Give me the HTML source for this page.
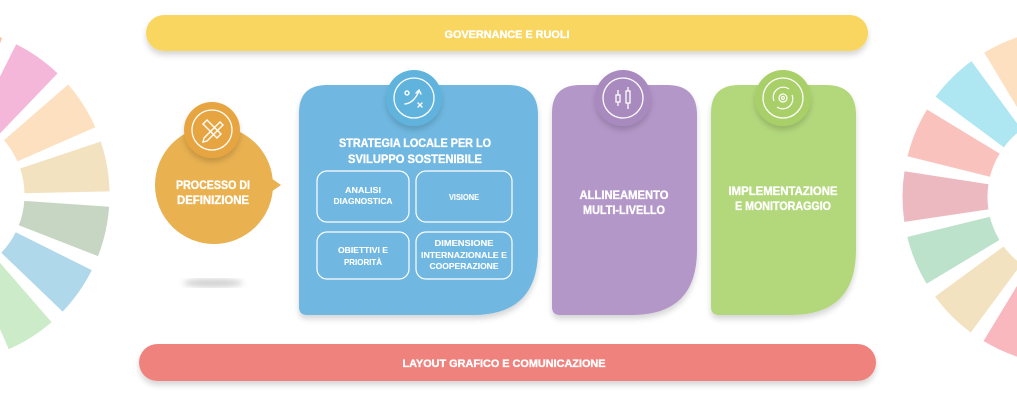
<!DOCTYPE html>
<html><head><meta charset="utf-8"><style>
html,body{margin:0;padding:0;background:#fff;}
svg{display:block;}
text{font-family:"Liberation Sans",sans-serif;font-weight:bold;fill:#fff;stroke:#fff;stroke-width:0.35px;}
</style></head><body>
<svg width="1017" height="408" viewBox="0 0 1017 408" xmlns="http://www.w3.org/2000/svg">
<defs>
<filter id="sh" x="-20%" y="-20%" width="140%" height="150%"><feDropShadow dx="0" dy="4" stdDeviation="3" flood-color="#000" flood-opacity="0.16"/></filter>
<filter id="blur"><feGaussianBlur stdDeviation="3"/></filter>
</defs>
<g fill="none" stroke-width="85">
<circle cx="-59" cy="195" r="126" stroke="#f8c5a8" stroke-dasharray="38 800" transform="rotate(-86 -59 195)"/>
<circle cx="-59" cy="195" r="126" stroke="#f4b6d9" stroke-dasharray="38 800" transform="rotate(-63.5 -59 195)"/>
<circle cx="-59" cy="195" r="126" stroke="#fce0bf" stroke-dasharray="38 800" transform="rotate(-41 -59 195)"/>
<circle cx="-59" cy="195" r="126" stroke="#f2e2c0" stroke-dasharray="38 800" transform="rotate(-18.5 -59 195)"/>
<circle cx="-59" cy="195" r="126" stroke="#c6d6c3" stroke-dasharray="38 800" transform="rotate(4 -59 195)"/>
<circle cx="-59" cy="195" r="126" stroke="#afd8ea" stroke-dasharray="38 800" transform="rotate(26.5 -59 195)"/>
<circle cx="-59" cy="195" r="126" stroke="#ccebc8" stroke-dasharray="38 800" transform="rotate(49 -59 195)"/>
</g>
<g fill="none" stroke-width="85">
<circle cx="1071" cy="197" r="126" stroke="#fde0c0" stroke-dasharray="38 800" transform="rotate(239 1071 197)"/>
<circle cx="1071" cy="197" r="126" stroke="#aee6f1" stroke-dasharray="38 800" transform="rotate(216.5 1071 197)"/>
<circle cx="1071" cy="197" r="126" stroke="#f9c2bd" stroke-dasharray="38 800" transform="rotate(194 1071 197)"/>
<circle cx="1071" cy="197" r="126" stroke="#ecb9c1" stroke-dasharray="38 800" transform="rotate(171.5 1071 197)"/>
<circle cx="1071" cy="197" r="126" stroke="#bde2cb" stroke-dasharray="38 800" transform="rotate(149 1071 197)"/>
<circle cx="1071" cy="197" r="126" stroke="#f3e2c0" stroke-dasharray="38 800" transform="rotate(126.5 1071 197)"/>
<circle cx="1071" cy="197" r="126" stroke="#f8b8bd" stroke-dasharray="38 800" transform="rotate(104 1071 197)"/>
</g>
<circle cx="1071" cy="197" r="83" fill="#fff"/>
<circle cx="-59" cy="195" r="83" fill="#fff"/>

<rect x="146" y="15" width="722" height="36" rx="18" fill="#f9d660" filter="url(#sh)"/>
<text x="507" y="38" font-size="11" text-anchor="middle" textLength="125" lengthAdjust="spacingAndGlyphs">GOVERNANCE E RUOLI</text>
<rect x="139" y="344" width="737" height="37" rx="18.5" fill="#f0827d" filter="url(#sh)"/>
<text x="504" y="367" font-size="11" text-anchor="middle" textLength="203" lengthAdjust="spacingAndGlyphs">LAYOUT GRAFICO E COMUNICAZIONE</text>

<ellipse cx="213" cy="283" rx="30" ry="4" fill="#bbb" filter="url(#blur)" opacity="0.7"/>
<path d="M268 176 L281 185 L268 194 Z" fill="#e9b150"/>
<circle cx="214" cy="185" r="59" fill="#e9b150"/>
<circle cx="212" cy="130" r="28" fill="#e6a541" filter="url(#sh)"/>
<circle cx="212" cy="130" r="20" fill="none" stroke="#fff" stroke-width="1.3"/>
<g stroke="#fff" stroke-width="1.4" fill="none" stroke-linecap="round"><path d="M204 138 L220 122 L223 125 L207 141 L203 142 Z"/><path d="M203 124 L207 120 L221 134 L217 138 Z"/></g>
<text x="213" y="189" font-size="11.5" text-anchor="middle" textLength="74" lengthAdjust="spacingAndGlyphs">PROCESSO DI</text>
<text x="213" y="204" font-size="11.5" text-anchor="middle" textLength="72" lengthAdjust="spacingAndGlyphs">DEFINIZIONE</text>

<path d="M327 85 H508 Q538 85 538 115 V250 Q538 315 473 315 H307 Q299 315 299 307 V113 Q299 85 327 85 Z" fill="#6fb8e1" filter="url(#sh)"/>
<circle cx="414" cy="98" r="28" fill="#5fb3dc" filter="url(#sh)"/>
<circle cx="414" cy="98" r="20" fill="none" stroke="#fff" stroke-width="1.3"/>
<g stroke="#fff" stroke-width="1.4" fill="none" stroke-linecap="round"><circle cx="407" cy="93" r="2"/><path d="M405 104 Q414 103 419 91"/><path d="M416 93 L419 90 L421 94"/><path d="M418 103 L422 107 M422 103 L418 107"/></g>
<text x="415" y="147" font-size="12" text-anchor="middle" textLength="152" lengthAdjust="spacingAndGlyphs">STRATEGIA LOCALE PER LO</text>
<text x="415" y="163" font-size="12" text-anchor="middle" textLength="134" lengthAdjust="spacingAndGlyphs">SVILUPPO SOSTENIBILE</text>
<g fill="none" stroke="#fff" stroke-width="1.2">
<rect x="317" y="171" width="92" height="51" rx="10"/>
<rect x="416" y="171" width="96" height="51" rx="10"/>
<rect x="317" y="232" width="92" height="47" rx="10"/>
<rect x="416" y="232" width="96" height="47" rx="10"/>
</g>
<g font-size="8.5" text-anchor="middle">
<text x="363" y="193" textLength="36" lengthAdjust="spacingAndGlyphs" style="stroke-width:0.1px">ANALISI</text>
<text x="363" y="204" textLength="59" lengthAdjust="spacingAndGlyphs" style="stroke-width:0.1px">DIAGNOSTICA</text>
<text x="464" y="200" textLength="30" lengthAdjust="spacingAndGlyphs" style="stroke-width:0.1px">VISIONE</text>
<text x="363" y="253" textLength="50" lengthAdjust="spacingAndGlyphs" style="stroke-width:0.1px">OBIETTIVI E</text>
<text x="363" y="265" textLength="38" lengthAdjust="spacingAndGlyphs" style="stroke-width:0.1px">PRIORITÀ</text>
<text x="464" y="246" textLength="59" lengthAdjust="spacingAndGlyphs" style="stroke-width:0.1px">DIMENSIONE</text>
<text x="464" y="258" textLength="86" lengthAdjust="spacingAndGlyphs" style="stroke-width:0.1px">INTERNAZIONALE E</text>
<text x="464" y="269" textLength="69" lengthAdjust="spacingAndGlyphs" style="stroke-width:0.1px">COOPERAZIONE</text>
</g>

<path d="M580 85 H667 Q697 85 697 115 V250 Q697 315 632 315 H560 Q552 315 552 307 V113 Q552 85 580 85 Z" fill="#b497c9" filter="url(#sh)"/>
<circle cx="623" cy="98" r="28" fill="#a98abf" filter="url(#sh)"/>
<circle cx="623" cy="98" r="20" fill="none" stroke="#fff" stroke-width="1.3"/>
<g stroke="#fff" stroke-width="1.3" fill="none"><rect x="616" y="95" width="4" height="7"/><path d="M618 90 V95 M618 102 V106"/><rect x="626" y="91" width="4" height="12"/><path d="M628 87 V91 M628 103 V109"/></g>
<text x="624" y="199" font-size="12" text-anchor="middle" textLength="89" lengthAdjust="spacingAndGlyphs">ALLINEAMENTO</text>
<text x="624" y="214" font-size="12" text-anchor="middle" textLength="82" lengthAdjust="spacingAndGlyphs">MULTI-LIVELLO</text>

<path d="M739 85 H826 Q856 85 856 115 V250 Q856 315 791 315 H719 Q711 315 711 307 V113 Q711 85 739 85 Z" fill="#b3d87b" filter="url(#sh)"/>
<circle cx="783" cy="98" r="28" fill="#a9cf68" filter="url(#sh)"/>
<circle cx="783" cy="98" r="20" fill="none" stroke="#fff" stroke-width="1.3"/>
<g stroke="#fff" stroke-width="1.2" fill="none"><circle cx="783" cy="98" r="4"/><circle cx="783" cy="98" r="1.5"/><path d="M774 101 A10 10 0 0 1 789 89"/><path d="M792 95 A10 10 0 0 1 777 107"/></g>
<text x="783" y="195" font-size="12" text-anchor="middle" textLength="109" lengthAdjust="spacingAndGlyphs">IMPLEMENTAZIONE</text>
<text x="783" y="210" font-size="12" text-anchor="middle" textLength="96" lengthAdjust="spacingAndGlyphs">E MONITORAGGIO</text>
</svg>
</body></html>
